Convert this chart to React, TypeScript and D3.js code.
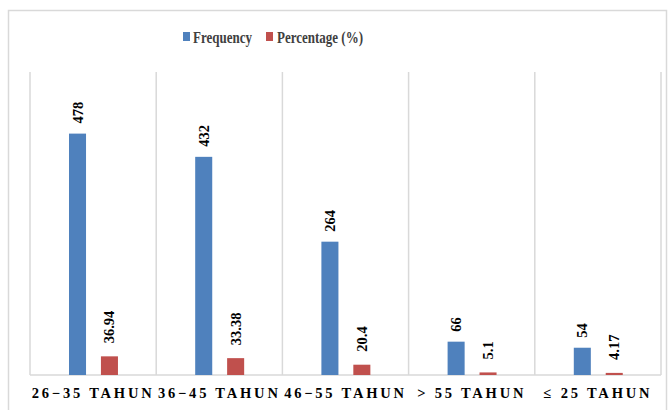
import React from "react";
import * as d3 from "d3";

const categories = ["26−35 TAHUN", "36−45 TAHUN", "46−55 TAHUN", "> 55 TAHUN", "≤ 25 TAHUN"];
const frequency = [478, 432, 264, 66, 54];
const percentage = [36.94, 33.38, 20.4, 5.1, 4.17];
const percentageLabels = ["36.94", "33.38", "20.4", "5.1", "4.17"];
const seriesNames = ["Frequency", "Percentage (%)"];
const colors = ["#4F81BD", "#C0504D"];

const W = 668;
const H = 410;
const plotLeft = 30;
const plotRight = 661;
const plotTop = 72;
const plotBottom = 375;

const font = "Times New Roman, Liberation Serif, DejaVu Serif, serif";

export default function App() {
  const x = d3.scaleBand<string>().domain(categories).range([plotLeft, plotRight]).padding(0);
  const y = d3.scaleLinear().domain([0, 600]).range([plotBottom, plotTop]);
  const bw = x.bandwidth();
  const barW = bw * 0.135;
  const blueOff = bw * 0.309;
  const redOff = bw * 0.562;
  const tStyle = { fontFamily: font, fontWeight: 700 } as React.CSSProperties;

  return (
    <svg width={W} height={H} style={{ position: "absolute", left: 0, top: 0 }}>
      <rect x={0} y={0} width={W} height={H} fill="#fff" />
      <rect x={8.5} y={10.5} width={658} height={420} fill="none" stroke="#d9d9d9" strokeWidth={1.5} />
      {categories.map((c) => (
        <line key={"g" + c} x1={x(c)!} x2={x(c)!} y1={plotTop} y2={plotBottom} stroke="#d9d9d9" strokeWidth={1.5} />
      ))}
      <line x1={plotRight} x2={plotRight} y1={plotTop} y2={plotBottom} stroke="#d9d9d9" strokeWidth={1.5} />
      <line x1={plotLeft} x2={plotRight} y1={plotBottom} y2={plotBottom} stroke="#d9d9d9" strokeWidth={1.5} />
      {categories.map((c, i) => {
        const bx = x(c)! + blueOff;
        const rx = x(c)! + redOff;
        const by = y(frequency[i]);
        const ry = y(percentage[i]);
        return (
          <g key={c}>
            <rect x={bx} y={by} width={barW} height={plotBottom - by} fill={colors[0]} />
            <rect x={rx} y={ry} width={barW} height={plotBottom - ry} fill={colors[1]} />
            <text
              transform={`translate(${bx + barW / 2},${by - 10}) rotate(-90)`}
              dominantBaseline="central"
              style={{ ...tStyle, fontSize: 14.5 }}
              fill="#000"
            >
              {frequency[i]}
            </text>
            <text
              transform={`translate(${rx + barW / 2},${ry - 13}) rotate(-90)`}
              dominantBaseline="central"
              style={{ ...tStyle, fontSize: 14.5 }}
              fill="#000"
            >
              {percentageLabels[i]}
            </text>
            <text
              x={x(c)! + bw / 2}
              y={398}
              textAnchor="middle"
              style={{ ...tStyle, fontSize: 14.5, letterSpacing: 2.8 }}
              fill="#000"
            >
              {c}
            </text>
          </g>
        );
      })}
      <g>
        <rect x={183} y={32} width={7} height={9} fill={colors[0]} />
        <text x={193} y={43} textLength={59} lengthAdjust="spacingAndGlyphs" style={{ ...tStyle, fontSize: 17 }} fill="#404040">{seriesNames[0]}</text>
        <rect x={266} y={32} width={7} height={9} fill={colors[1]} />
        <text x={277} y={43} textLength={86} lengthAdjust="spacingAndGlyphs" style={{ ...tStyle, fontSize: 17 }} fill="#404040">{seriesNames[1]}</text>
      </g>
    </svg>
  );
}
